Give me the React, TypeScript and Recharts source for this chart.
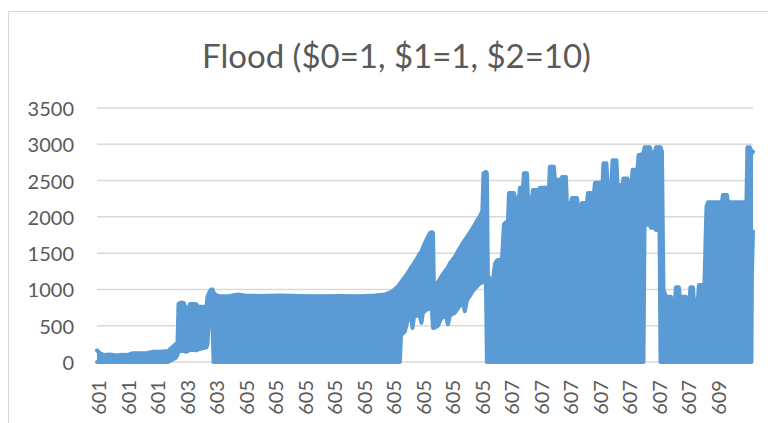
import { AreaChart, Area, XAxis, YAxis, CartesianGrid } from 'recharts'

// category labels, one every 30 samples
const TICK_LABELS = [
  '601', '601', '601', '603', '603',
  '605', '605', '605', '605', '605', '605', '605', '605', '605',
  '607', '607', '607', '607', '607', '607', '607', '609',
]
const TICK_POS = [
  1, 31, 61, 91, 121, 151, 181, 211, 241, 271, 301,
  331, 361, 391, 421, 451, 481, 511, 541, 571, 601, 631,
]
const X_MAX = 666.6

const Y_TICKS = [0, 500, 1000, 1500, 2000, 2500, 3000, 3500]

// sample positions where the envelope of the oscillating series changes
const SAMPLE = [
  0, 3, 7.1, 13.2, 19.3, 25.4, 30.5, 35.6, 43.7, 50.8, 55.9, 64, 72.1, 76.2, 80.3, 81.8,
  82.8, 85.3, 88.4, 90.4, 92.5, 94.5, 100.6, 102.6, 109.7, 111.3, 112.3, 113.8, 115.8, 117.3,
  118.4, 120.9, 125, 135.1, 143.3, 150.4, 165.6, 185.9, 206.2, 226.6, 246.9, 267.2, 282.4,
  292.6, 299.7, 305.8, 307.8,
  308.9, 312.9, 316, 319, 320.6, 322.1, 326.1, 328.2, 329.7, 331.2, 335.3, 338.3, 340.4, 341.4,
  342.4, 346.5, 350.5, 354.6, 356.6, 358.6, 363.7, 367.8, 371.8, 373.8, 375.9, 381, 385, 389.1,
  391.6, 392.7, 395.2, 396.2,
  397.2, 399.3, 402.3, 404.4, 406.4, 411.5, 413.5, 417.6, 418.6, 423.7, 424.7, 428.8, 429.8,
  432.8, 433.8, 436.9, 437.9, 442, 443, 449.1, 450.1, 459.2, 460.2, 464.3, 465.3, 470.4, 471.4,
  472.4, 476.5, 477.5, 481.6, 482.6, 487.7, 488.7, 491.7, 492.8, 497.8, 498.9, 505, 506, 511.1,
  512.1, 513.6, 514.6, 517.7, 518.7, 522.8, 523.8, 527.9, 528.9, 534, 535, 539.1, 540.1, 543.1,
  544.2, 549.2, 550.3, 555.3,
  556.4, 561.9, 562.9, 567, 568, 571.6,
  572.6, 574.1, 575.6, 578.1, 583.2, 584.2, 587.2, 588.3, 591.3, 592.3, 598.4, 599.4, 602, 603,
  605.5, 606.6, 610.6, 611.6, 617.2, 619.3, 620.8, 635, 636, 640.1, 641.1, 659.9, 660.9, 663.4,
  665, 665.5, 666.6,
]

// upper edge at each sample
const HIGH = [
  160, 120, 95, 105, 90, 100, 95, 120, 120, 125, 140, 140, 150, 200, 250, 260,
  800, 820, 810, 720, 720, 800, 800, 760, 760, 770, 900, 950, 1000, 1000,
  960, 920, 905, 910, 930, 915, 910, 915, 910, 905, 910, 905, 915,
  930, 970, 1040, 1080,
  1100, 1170, 1230, 1300, 1330, 1360, 1450, 1500, 1520, 1580, 1700, 1780, 1790, 1780,
  1060, 1100, 1190, 1270, 1300, 1360, 1450, 1550, 1640, 1680, 1720, 1830, 1920, 2010,
  2080, 2600, 2620, 2600,
  1200, 1130, 1130, 1350, 1400, 1420, 1900, 1950, 2330, 2330, 2260, 2260, 2400,
  2400, 2600, 2600, 2270, 2260, 2370, 2370, 2400, 2400, 2690, 2690, 2510, 2510, 2420,
  2550, 2550, 2190, 2190, 2260, 2260, 2140, 2140, 2190, 2190, 2330, 2330, 2470, 2470,
  2440, 2440, 2740, 2740, 2480, 2480, 2780, 2780, 2440, 2440, 2530, 2530, 2440, 2440,
  2650, 2650, 2850, 2870,
  2960, 2960, 2890, 2890, 2960, 2960,
  2960, 2900, 1000, 900, 900, 830, 830, 1030, 1030, 900, 900, 810, 810, 1030,
  1030, 850, 850, 1060, 1060, 2140, 2200, 2200, 2300, 2300, 2200, 2200, 2960, 2960,
  2900, 2880, 2900,
]

// lower edge at each sample
const LOW = [
  0, 0, 0, 0, 0, 0, 0, 0, 0, 0, 0, 0, 0, 30, 60, 100,
  150, 150, 150, 140, 150, 170, 160, 170, 200, 200, 250, 580, 600, 580,
  0, 0, 0, 0, 0, 0, 0, 0, 0, 0, 0, 0, 0,
  0, 0, 0, 0,
  370, 420, 600, 620, 470, 620, 650, 620, 540, 680, 720, 750, 700, 470,
  470, 500, 620, 620, 520, 640, 680, 760, 820, 700, 850, 960, 1030, 1080,
  1100, 1100, 1100, 0,
  0, 0, 0, 0, 0, 0, 0, 0, 0, 0, 0, 0, 0,
  0, 0, 0, 0, 0, 0, 0, 0, 0, 0, 0, 0, 0, 0,
  0, 0, 0, 0, 0, 0, 0, 0, 0, 0, 0, 0, 0, 0,
  0, 0, 0, 0, 0, 0, 0, 0, 0, 0, 0, 0, 0, 0,
  0, 0, 0, 0,
  1890, 1890, 1850, 1850, 1820, 1820,
  0, 0, 0, 0, 0, 0, 0, 0, 0, 0, 0, 0, 0, 0,
  0, 0, 0, 0, 0, 0, 0, 0, 0, 0, 0, 0, 0, 0,
  0, 1200, 1800,
]

const BLUE = '#5B9BD5'
const TEXT = '#595959'
const GRID = '#D9D9D9'
const FONT = 'Lato, "Open Sans", sans-serif'

const data = SAMPLE.map((s, i) => ({ s, range: [LOW[i], HIGH[i]] }))

function XTick(props: any) {
  const { x, payload } = props
  const label = TICK_LABELS[TICK_POS.indexOf(payload.value)]
  if (!label) return null
  const y = 380
  return (
    <text
      x={x}
      y={y}
      transform={`rotate(-90 ${x} ${y})`}
      textAnchor="end"
      dominantBaseline="central"
      fontSize={20}
      fontFamily={FONT}
      fill={TEXT}
    >
      {label}
    </text>
  )
}

function YTick(props: any) {
  const { y, payload } = props
  return (
    <text x={74} y={y} textAnchor="end" dominantBaseline="central" fontSize={20} fontFamily={FONT} fill={TEXT}>
      {payload.value}
    </text>
  )
}

export default function App() {
  return (
    <div
      style={{
        position: 'absolute',
        left: 0,
        top: 0,
        width: 768,
        height: 423,
        overflow: 'hidden',
        background: '#fff',
      }}
    >
      <div
        style={{
          position: 'absolute',
          left: 8,
          top: 11,
          width: 800,
          height: 500,
          border: `1px solid ${GRID}`,
        }}
      />
      <div
        style={{
          position: 'absolute',
          left: 0,
          width: 793,
          top: 34,
          textAlign: 'center',
          fontFamily: FONT,
          fontSize: 33,
          lineHeight: '42px',
          color: TEXT,
        }}
      >
        Flood ($0=1, $1=1, $2=10)
      </div>
      <div style={{ position: 'absolute', left: 0, top: 0 }}>
        <AreaChart width={768} height={423} data={data} margin={{ top: 108, right: 15, bottom: 11, left: 0 }}>
          <CartesianGrid vertical={false} stroke={GRID} strokeWidth={1.5} />
          <XAxis
            dataKey="s"
            type="number"
            domain={[0, X_MAX]}
            ticks={TICK_POS}
            interval={0}
            height={50}
            axisLine={false}
            tickLine={false}
            tick={<XTick />}
          />
          <YAxis
            domain={[0, 3500]}
            ticks={Y_TICKS}
            width={97}
            axisLine={false}
            tickLine={false}
            tick={<YTick />}
          />
          <Area
            type="linear"
            dataKey="range"
            stroke={BLUE}
            strokeWidth={4}
            strokeLinejoin="round"
            strokeLinecap="round"
            fill={BLUE}
            fillOpacity={1}
            dot={false}
            activeDot={false}
            isAnimationActive={false}
          />
        </AreaChart>
      </div>
    </div>
  )
}
